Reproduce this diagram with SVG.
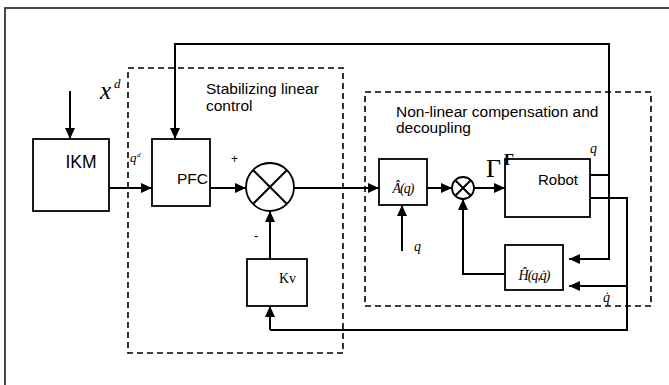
<svg xmlns="http://www.w3.org/2000/svg" width="669" height="385" viewBox="0 0 669 385">
<defs>
<marker id="ah" markerWidth="11" markerHeight="10" refX="11" refY="5" orient="auto" markerUnits="userSpaceOnUse">
<path d="M0,0 L11,5 L0,10 Z" fill="#000"/>
</marker>
</defs>
<style>
.box{fill:#fff;stroke:#000;stroke-width:1.8}
.dash{fill:none;stroke:#000;stroke-width:1.6;stroke-dasharray:6 4}
.ln{fill:none;stroke:#000;stroke-width:2}
.arr{fill:none;stroke:#000;stroke-width:2;marker-end:url(#ah)}
.sans{font-family:"Liberation Sans",Arial,sans-serif;fill:#000}
.ser{font-family:"Liberation Serif","Times New Roman",serif;fill:#000}
.it{font-style:italic}
</style>
<rect width="669" height="385" fill="#fff"/>
<rect x="5" y="8" width="700" height="420" fill="none" stroke="#333" stroke-width="1.8"/>

<g id="stab-region">
<rect class="dash" x="128" y="68" width="215" height="285"/>
<text class="sans" x="206" y="94" font-size="15.5">Stabilizing linear</text>
<text class="sans" x="206" y="111" font-size="15.5">control</text>
</g>
<g id="nonlin-region">
<rect class="dash" x="365" y="92" width="286" height="214"/>
<text class="sans" x="396" y="117" font-size="15.5">Non-linear compensation and</text>
<text class="sans" x="396" y="133" font-size="15.5">decoupling</text>
</g>

<g id="connectors">
<path class="arr" d="M70,91 L70,139"/>
<path class="arr" d="M109,188 L152,188"/>
<path class="arr" d="M210,188 L246,188"/>
<path class="arr" d="M294,188 L379,188"/>
<path class="arr" d="M427,188 L452,188"/>
<path class="arr" d="M474,188 L505,188"/>
<path class="arr" d="M270,259 L270,211"/>
<path class="arr" d="M270,330 L270,306"/>
<path class="ln" d="M590,175 L609,175"/>
<path class="arr" d="M609,175 L609,44 L175,44 L175,139"/>
<path class="arr" d="M609,175 L609,259 L569,259"/>
<path class="ln" d="M590,198 L627,198 L627,330 L270,330"/>
<path class="arr" d="M627,286 L569,286"/>
<path class="arr" d="M505,274 L463,274 L463,199"/>
<path class="arr" d="M402,251 L402,205"/>
</g>

<g id="ikm">
<rect class="box" x="33" y="139" width="76" height="72"/>
<text class="sans" x="81" y="168" font-size="17.5" text-anchor="middle">IKM</text>
</g>
<g id="pfc">
<rect class="box" x="152" y="139" width="58" height="67"/>
<text class="sans" x="208" y="184" font-size="15.5" text-anchor="end">PFC</text>
</g>
<g id="sum1">
<circle cx="270" cy="187" r="24" fill="#fff" stroke="#000" stroke-width="1.8"/>
<path class="ln" stroke-width="1.6" d="M253,170 L287,204 M287,170 L253,204"/>
</g>
<g id="kv">
<rect class="box" x="247" y="259" width="60" height="47"/>
<text class="ser" x="279" y="283" font-size="14">Kv</text>
</g>
<g id="ahat">
<rect class="box" x="379" y="159" width="48" height="46"/>
<text class="ser it" x="403" y="193" font-size="14" text-anchor="middle" letter-spacing="-1">Â(q)</text>
</g>
<g id="sum2">
<circle cx="463" cy="188" r="11" fill="#fff" stroke="#000" stroke-width="1.8"/>
<path class="ln" stroke-width="1.6" d="M455,180 L471,196 M471,180 L455,196"/>
</g>
<g id="robot">
<rect class="box" x="505" y="159" width="85" height="58"/>
<text class="sans" x="538" y="185" font-size="15">Robot</text>
</g>
<g id="hhat">
<rect class="box" x="505" y="245" width="58" height="45"/>
<text class="ser it" x="534" y="280" font-size="14" text-anchor="middle" letter-spacing="-1">Ĥ(q,q̇)</text>
</g>

<g id="labels">
<text class="ser it" x="100" y="99" font-size="25">x</text>
<text class="ser it" x="114" y="88" font-size="13">d</text>
<text class="ser it" x="130" y="162" font-size="13">q</text>
<text class="ser it" x="137" y="157" font-size="7">d</text>
<text class="sans" x="231" y="163" font-size="12">+</text>
<text class="sans" x="254" y="240" font-size="13">-</text>
<text class="ser it" x="414" y="251" font-size="14">q</text>
<text class="ser" x="486" y="177" font-size="26">Γ</text>
<text class="ser" x="504" y="165" font-size="16" font-weight="bold">Γ</text>
<text class="ser it" x="590" y="153" font-size="14">q</text>
<text class="ser it" x="603" y="302" font-size="14">q̇</text>
</g>
</svg>
